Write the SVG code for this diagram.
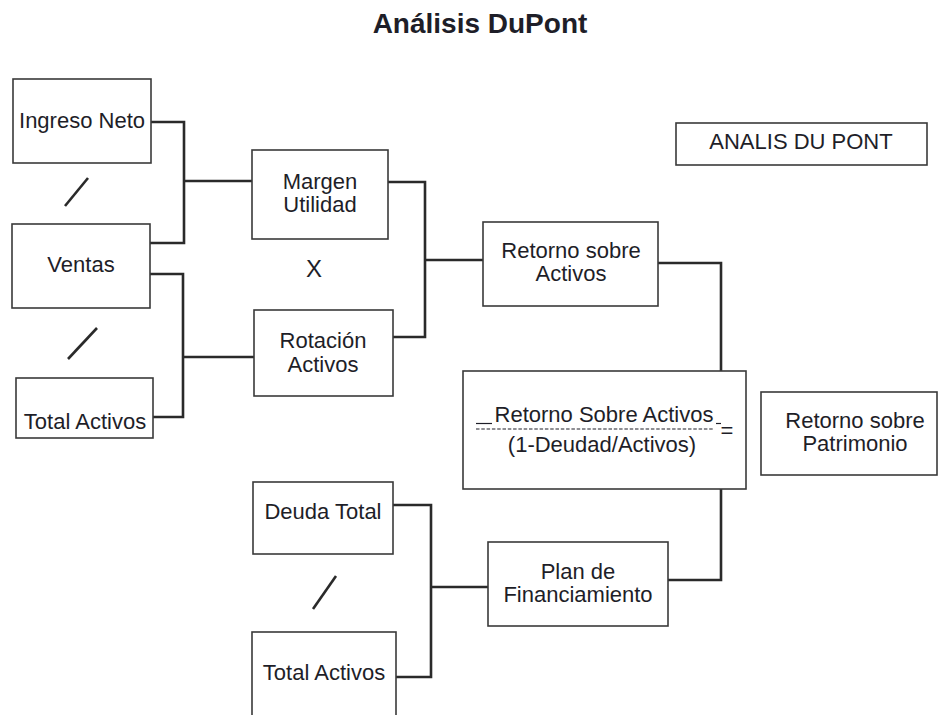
<svg xmlns="http://www.w3.org/2000/svg" width="938" height="715" viewBox="0 0 938 715">
<style>
  .box { fill: #ffffff; stroke: #3a3a3a; stroke-width: 1.6; }
  .t { font-family: "Liberation Sans", Arial, sans-serif; font-size: 22px; fill: #1e1e28; text-anchor: middle; }
  .title { font-family: "Liberation Sans", Arial, sans-serif; font-size: 28px; font-weight: bold; fill: #1e1e28; text-anchor: middle; }
  .conn { fill: none; stroke: #2a2a2a; stroke-width: 2.6; stroke-linejoin: miter; }
  .slash { stroke: #2a2a2a; stroke-width: 2.6; }
</style>
<rect x="0" y="0" width="938" height="715" fill="#ffffff"/>
<text class="title" x="480" y="33">Análisis DuPont</text>

<g id="connectors">
  <path class="conn" d="M151,122 H184 V243 H150 M184,181 H252"/>
  <path class="conn" d="M150,274 H183 V417 H153 M183,357 H254"/>
  <path class="conn" d="M388,182 H425 V337 H393 M425,260 H483"/>
  <path class="conn" d="M658,263 H721 V371"/>
  <path class="conn" d="M721,489 V580 H668"/>
  <path class="conn" d="M393,505 H431 V677 H396 M431,587 H488"/>
</g>

<g id="operators">
  <line class="slash" x1="65" y1="206" x2="88" y2="178"/>
  <line class="slash" x1="68" y1="359" x2="97" y2="328"/>
  <line class="slash" x1="313" y1="609" x2="336" y2="576"/>
  <text class="t" x="314" y="277" style="font-size:24px">X</text>
</g>

<g id="ingreso-neto">
  <rect class="box" x="13" y="79" width="138" height="84"/>
  <text class="t" x="82" y="128">Ingreso Neto</text>
</g>
<g id="ventas">
  <rect class="box" x="12" y="224" width="138" height="84"/>
  <text class="t" x="81" y="272">Ventas</text>
</g>
<g id="total-activos-1">
  <rect class="box" x="16" y="378" width="137" height="60"/>
  <text class="t" x="85" y="429">Total Activos</text>
</g>
<g id="margen-utilidad">
  <rect class="box" x="252" y="150" width="136" height="89"/>
  <text class="t" x="320" y="189">Margen</text>
  <text class="t" x="320" y="212">Utilidad</text>
</g>
<g id="rotacion-activos">
  <rect class="box" x="254" y="310" width="139" height="86"/>
  <text class="t" x="323" y="348">Rotación</text>
  <text class="t" x="323" y="372">Activos</text>
</g>
<g id="retorno-activos">
  <rect class="box" x="483" y="222" width="175" height="84"/>
  <text class="t" x="571" y="258">Retorno sobre</text>
  <text class="t" x="571" y="281">Activos</text>
</g>
<g id="analis-du-pont">
  <rect class="box" x="676" y="123" width="251" height="42"/>
  <text class="t" x="801" y="149">ANALIS DU PONT</text>
</g>
<g id="formula">
  <rect class="box" x="463" y="371" width="283" height="118"/>
  <text class="t" x="604" y="422">Retorno Sobre Activos</text>
  <line x1="476" y1="423.5" x2="492" y2="423.5" stroke="#1e1e28" stroke-width="1.2"/>
  <line x1="716" y1="423.5" x2="721" y2="423.5" stroke="#1e1e28" stroke-width="1.2"/>
  <line x1="476" y1="429" x2="713" y2="429" stroke="#1e1e28" stroke-width="1.2" stroke-dasharray="3.5 1.8"/>
  <text class="t" x="602" y="452">(1-Deudad/Activos)</text>
  <text class="t" x="727" y="438">=</text>
</g>
<g id="retorno-patrimonio">
  <rect class="box" x="761" y="392" width="176" height="83"/>
  <text class="t" x="855" y="428">Retorno sobre</text>
  <text class="t" x="855" y="451">Patrimonio</text>
</g>
<g id="deuda-total">
  <rect class="box" x="253" y="482" width="140" height="72"/>
  <text class="t" x="323" y="519">Deuda Total</text>
</g>
<g id="plan-financiamiento">
  <rect class="box" x="488" y="542" width="180" height="84"/>
  <text class="t" x="578" y="579">Plan de</text>
  <text class="t" x="578" y="602">Financiamiento</text>
</g>
<g id="total-activos-2">
  <rect class="box" x="252" y="632" width="144" height="100"/>
  <text class="t" x="324" y="680">Total Activos</text>
</g>
</svg>
